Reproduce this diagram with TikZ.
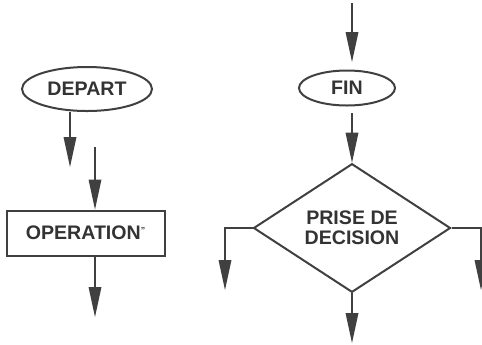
\documentclass[tikz,border=0pt]{standalone}
\usepackage{fontspec}
\setmainfont{Liberation Sans}
\usetikzlibrary{shapes.geometric, arrows.meta}

\begin{document}
\begin{tikzpicture}[
  x=0.5pt, y=-0.5pt,
  font=\fontsize{9.8}{10}\selectfont\bfseries,
  text=black!80,
  term_box/.style={ellipse, draw=black!75, line width=1pt, inner sep=0pt},
  op_box/.style={rectangle, draw=black!75, line width=1pt, minimum width=79pt, minimum height=22.5pt},
  dec_box/.style={diamond, draw=black!75, line width=1pt, inner sep=0pt, minimum width=98.5pt, minimum height=55pt, align=center},
  arrow/.style={-{Triangle[length=15pt, width=6.5pt, line width=0pt]}, draw=black!75, line width=1.3pt}
]
\useasboundingbox (0,0) rectangle (482,344);

% Left column
\node[term_box, minimum width=65pt, minimum height=22pt] (depart) at (87,89) {DEPART};
\node[op_box] (oper) at (85.5,233) {OPERATION\raisebox{3pt}{\scalebox{0.45}{"}}};

\coordinate (d_end) at (70,167);
\coordinate (o_in) at (95,147);
\coordinate (o_out) at (95,317);

% Right column
\node[term_box, minimum width=48pt, minimum height=17.5pt] (fin) at (347,88) {FIN};
\node[dec_box] (dec) at (352,228) {PRISE DE\\DECISION};

\coordinate (f_in) at (352,3);
\coordinate (f_top) at (352,62);
\coordinate (f_out) at (352,113);
\coordinate (l_end) at (225,290);
\coordinate (r_end) at (481,290);
\coordinate (b_end) at (352,343);

% Arrows
\draw[arrow] (depart.south -| d_end) -- (d_end);
\draw[arrow] (o_in) -- (o_in |- oper.north);
\draw[arrow] (oper.south -| o_out) -- (o_out);
\draw[arrow] (f_in) -- (f_top);
\draw[arrow] (f_out) -- (dec.north);
\draw[arrow] (dec.west) -| (l_end);
\draw[arrow] (dec.east) -| (r_end);
\draw[arrow] (dec.south) -- (b_end);

\end{tikzpicture}
\end{document}
